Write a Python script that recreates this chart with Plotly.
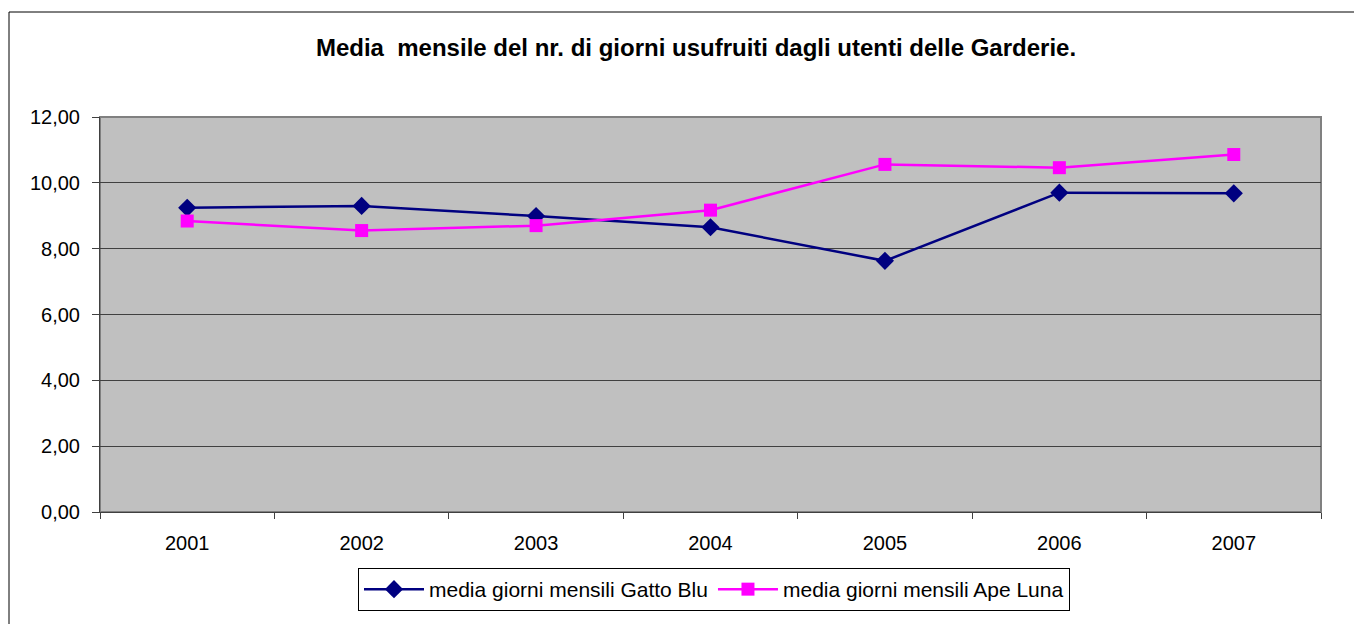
import plotly.graph_objects as go

years = ["2001", "2002", "2003", "2004", "2005", "2006", "2007"]
gatto_blu = [9.24, 9.30, 8.99, 8.65, 7.63, 9.70, 9.68]
ape_luna = [8.84, 8.55, 8.70, 9.17, 10.56, 10.46, 10.86]
y_ticks = [0, 2, 4, 6, 8, 10, 12]

# page has an 8px body margin, so the figure is shifted by 8px
OFF = 8
W, H = 1362 - OFF, 624 - OFF
L, T = 100 - OFF, 117 - OFF
R = W - (1321 - OFF)
B = H - (512 - OFF)
pw = W - L - R
ph = H - T - B

def px_x(p):
    return (p - OFF - L) / pw

def px_y(p):
    return 1 - (p - OFF - T) / ph

FONT = "Liberation Sans, Arial, sans-serif"

fig = go.Figure()
fig.add_trace(go.Scatter(
    x=years, y=gatto_blu, mode="lines+markers",
    name="media giorni mensili Gatto Blu",
    line=dict(color="#000080", width=2.5),
    marker=dict(symbol="diamond", size=14, color="#000080"),
))
fig.add_trace(go.Scatter(
    x=years, y=ape_luna, mode="lines+markers",
    name="media giorni mensili Ape Luna",
    line=dict(color="#FF00FF", width=2.5),
    marker=dict(symbol="square", size=13, color="#FF00FF"),
))

fig.update_layout(
    width=W, height=H,
    margin=dict(l=L, r=R, t=T, b=B),
    paper_bgcolor="white",
    plot_bgcolor="#C0C0C0",
    separators=",.",
    font=dict(family=FONT, size=20, color="black"),
    title=dict(
        text="<b>Media  mensile del nr. di giorni usufruiti dagli utenti delle Garderie.</b>",
        x=px_x(696), xref="paper", xanchor="center",
        y=1 - (48 - OFF) / H, yref="container", yanchor="middle",
        font=dict(size=24, family=FONT, color="black"),
    ),
    showlegend=True,
    legend=dict(
        orientation="h",
        x=px_x(714), xanchor="center",
        y=px_y(568), yanchor="top",
        bordercolor="black", borderwidth=1,
        bgcolor="white",
        font=dict(size=21, family=FONT),
        itemwidth=60,
        tracegroupgap=0,
    ),
)

fig.update_xaxes(
    type="category",
    range=[-0.5, len(years) - 0.5],
    tickson="boundaries",
    ticks="outside", ticklen=6, tickcolor="#404040",
    showline=True, linecolor="#404040", linewidth=1,
    showgrid=False,
    tickfont=dict(size=20),
    ticklabelstandoff=13,
)
fig.update_yaxes(
    range=[0, 12],
    tickvals=y_ticks,
    tickformat=".2f",
    ticks="outside", ticklen=7, tickcolor="#404040",
    showline=True, linecolor="#404040", linewidth=1,
    showgrid=True, gridcolor="#404040", gridwidth=1,
    zeroline=False,
    tickfont=dict(size=20),
    ticklabelstandoff=8,
)

# plot area border (grey)
fig.add_shape(type="rect", xref="paper", yref="paper", x0=0, x1=1, y0=0, y1=1,
              line=dict(color="#808080", width=2), layer="below")
# outer chart border (top and left visible)
fig.add_shape(type="line", xref="paper", yref="paper",
              x0=px_x(9), x1=px_x(1400), y0=px_y(12), y1=px_y(12),
              line=dict(color="black", width=1))
fig.add_shape(type="line", xref="paper", yref="paper",
              x0=px_x(9), x1=px_x(9), y0=px_y(12), y1=px_y(700),
              line=dict(color="black", width=1))

fig.write_html("out.html")
